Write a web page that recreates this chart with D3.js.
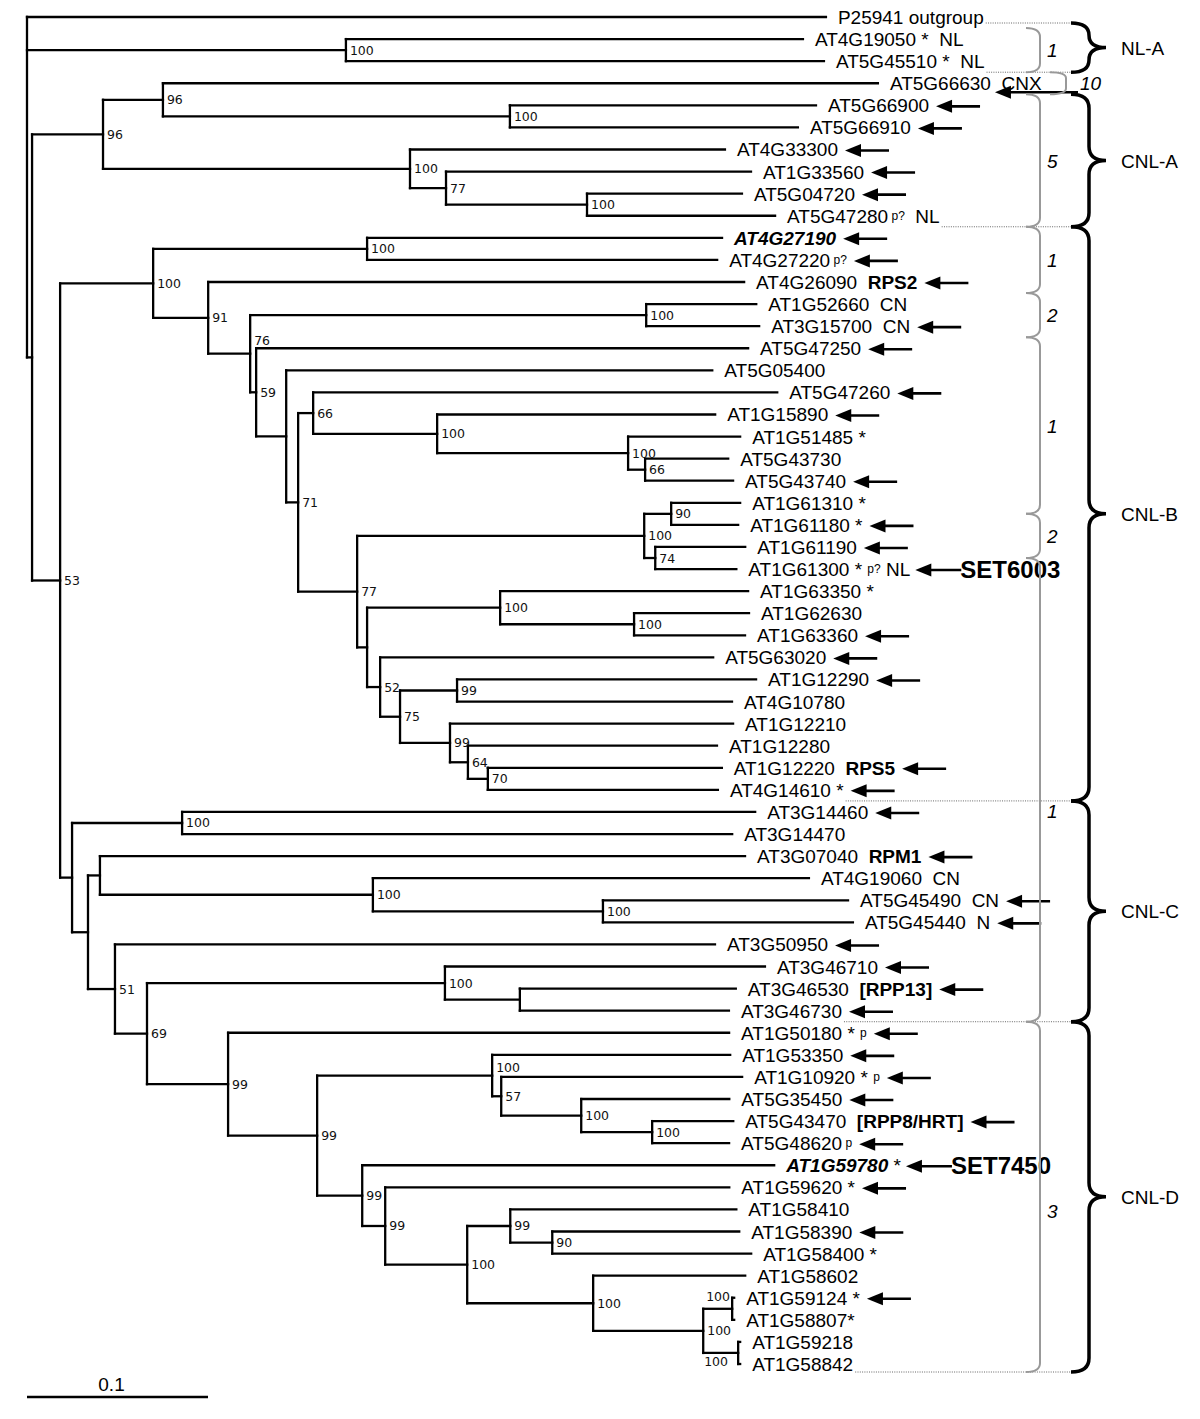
<!DOCTYPE html>
<html><head><meta charset="utf-8">
<script src="https://cdn.jsdelivr.net/npm/d3@7"></script>
<style>body{margin:0;background:#fff} text{white-space:pre}</style>
</head><body>
<svg id="c" width="1200" height="1419"></svg>
<script>
// ---- DATA ----
// tree edges: [id, parent, branch length (subst./site), bootstrap]
const treeEdges = [
 ["root","",0,""],
 ["P25941","root",0.4414,""],
 ["n1","root",0.1762,"100"],
 ["AT4G19050","n1",0.2525,""],
 ["AT5G45510","n1",0.2641,""],
 ["n2","root",0.0028,""],
 ["n3","n2",0.0392,"96"],
 ["n4","n3",0.0331,"96"],
 ["AT5G66630","n4",0.3950,""],
 ["n5","n4",0.1917,"100"],
 ["AT5G66900","n5",0.1691,""],
 ["AT5G66910","n5",0.1591,""],
 ["n6","n3",0.1696,"100"],
 ["AT4G33300","n6",0.1740,""],
 ["n7","n6",0.0199,"77"],
 ["AT1G33560","n7",0.1685,""],
 ["n8","n7",0.0779,"100"],
 ["AT5G04720","n8",0.0856,""],
 ["AT5G47280","n8",0.1039,""],
 ["n9","n2",0.0155,"53"],
 ["n10","n9",0.0514,"100"],
 ["n11","n10",0.1182,"100"],
 ["AT4G27190","n11",0.1961,""],
 ["AT4G27220","n11",0.1934,""],
 ["n12","n10",0.0304,"91"],
 ["AT4G26090","n12",0.2961,""],
 ["n13","n12",0.0232,"76"],
 ["n14","n13",0.2188,"100"],
 ["AT1G52660","n14",0.0608,""],
 ["AT3G15700","n14",0.0624,""],
 ["n15","n13",0.0033,"59"],
 ["AT5G47250","n15",0.2718,""],
 ["n16","n15",0.0166,""],
 ["AT5G05400","n16",0.2354,""],
 ["n17","n16",0.0066,"71"],
 ["n18","n17",0.0083,"66"],
 ["AT5G47260","n18",0.2564,""],
 ["n19","n18",0.0685,"100"],
 ["AT1G15890","n19",0.1536,""],
 ["n20","n19",0.1055,"100"],
 ["AT1G51485","n20",0.0619,""],
 ["n21","n20",0.0094,"66"],
 ["AT5G43730","n21",0.0459,""],
 ["AT5G43740","n21",0.0486,""],
 ["n22","n17",0.0326,"77"],
 ["n23","n22",0.1586,"100"],
 ["n24","n23",0.0149,"90"],
 ["AT1G61310","n24",0.0381,""],
 ["AT1G61180","n24",0.0370,""],
 ["n25","n23",0.0061,"74"],
 ["AT1G61190","n25",0.0497,""],
 ["AT1G61300","n25",0.0448,""],
 ["n26","n22",0.0055,""],
 ["n27","n26",0.0735,"100"],
 ["AT1G63350","n27",0.1370,""],
 ["n28","n27",0.0740,"100"],
 ["AT1G62630","n28",0.0635,""],
 ["AT1G63360","n28",0.0613,""],
 ["n29","n26",0.0072,"52"],
 ["AT5G63020","n29",0.1840,""],
 ["n30","n29",0.0110,"75"],
 ["n31","n30",0.0315,"99"],
 ["AT1G12290","n31",0.1652,""],
 ["AT4G10780","n31",0.1519,""],
 ["n32","n30",0.0276,"99"],
 ["AT1G12210","n32",0.1564,""],
 ["n33","n32",0.0099,"64"],
 ["AT1G12280","n33",0.1376,""],
 ["n34","n33",0.0110,"70"],
 ["AT1G12220","n34",0.1293,""],
 ["AT4G14610","n34",0.1271,""],
 ["n35","n9",0.0066,""],
 ["n36","n35",0.0608,"100"],
 ["AT3G14460","n36",0.3166,""],
 ["AT3G14470","n36",0.3039,""],
 ["n37","n35",0.0088,""],
 ["n38","n37",0.0066,""],
 ["AT3G07040","n38",0.3564,""],
 ["n39","n38",0.1508,"100"],
 ["AT4G19060","n39",0.2409,""],
 ["n40","n39",0.1271,"100"],
 ["AT5G45490","n40",0.1354,""],
 ["AT5G45440","n40",0.1381,""],
 ["n41","n37",0.0149,"51"],
 ["AT3G50950","n41",0.3315,""],
 ["n42","n41",0.0177,"69"],
 ["n43","n42",0.1646,"100"],
 ["AT3G46710","n43",0.1768,""],
 ["n44","n43",0.0414,""],
 ["AT3G46530","n44",0.1193,""],
 ["AT3G46730","n44",0.1155,""],
 ["n45","n42",0.0448,"99"],
 ["AT1G50180","n45",0.2768,""],
 ["n46","n45",0.0492,"99"],
 ["n47","n46",0.0967,"100"],
 ["AT1G53350","n47",0.1315,""],
 ["n48","n47",0.0050,"57"],
 ["AT1G10920","n48",0.1331,""],
 ["n49","n48",0.0442,"100"],
 ["AT5G35450","n49",0.0818,""],
 ["n50","n49",0.0392,"100"],
 ["AT5G43470","n50",0.0448,""],
 ["AT5G48620","n50",0.0425,""],
 ["n51","n46",0.0249,"99"],
 ["AT1G59780","n51",0.2276,""],
 ["n52","n51",0.0127,"99"],
 ["AT1G59620","n52",0.1901,""],
 ["n53","n52",0.0453,"100"],
 ["n54","n53",0.0238,"99"],
 ["AT1G58410","n54",0.1249,""],
 ["n55","n54",0.0232,"90"],
 ["AT1G58390","n55",0.1033,""],
 ["AT1G58400","n55",0.1099,""],
 ["n56","n53",0.0696,"100"],
 ["AT1G58602","n56",0.0840,""],
 ["n57","n56",0.0608,"100"],
 ["n58","n57",0.0160,"100"],
 ["AT1G59124","n58",0.0011,""],
 ["AT1G58807","n58",0.0011,""],
 ["n59","n57",0.0193,"100"],
 ["AT1G59218","n59",0.0011,""],
 ["AT1G58842","n59",0.0011,""]
];

// notes after each leaf name (top to bottom). n: normal, b: bold, s: small raised
const leafNotes = [
 "n: outgroup","n: *  NL","n: *  NL","n:  CNX","","","","","","s: p?|n:  NL",
 "","s: p?","b:  RPS2","n:  CN","n:  CN","","","","","n: *",
 "","","n: *","n: *","","n: * |s:p?|n: NL","n: *","","","",
 "","","","","b:  RPS5","n: *","","","b:  RPM1","n:  CN",
 "n:  CN","n:  N","","","b:  [RPP13]","","n: * |s:p","","n: * |s:p","",
 "b:  [RPP8/HRT]","s: p","n: *","n: *","","","n: *","","n: *","n:*",
 "",""
];
// 0 none, 1 arrow after label, 2 arrow over suffix
const leafArrow = [0,0,0,2,1,1,1,1,1,0, 1,1,1,0,1,1,0,1,1,0, 0,1,0,1,1,1,0,0,1,1,
                   1,0,0,0,1,1,1,0,1,0, 1,1,1,1,1,1,1,1,1,1, 1,1,1,1,0,1,0,0,1,0, 0,0];
const boldItalicLeaves = ["AT4G27190","AT1G59780"];
const setLabels = [["AT1G61300","SET6003"],["AT1G59780","SET7450"]];

// clades: [label, first leaf index, last leaf index]
const clades = [["NL-A",0,2],["CNL-A",4,9],["CNL-B",10,35],["CNL-C",36,45],["CNL-D",46,61]];
// sub-groups: [number, first leaf index, last leaf index]
const subGroups = [["1",1,2],["10",3,3],["5",4,9],["1",10,12],["2",13,14],["1",15,22],["2",23,24],["1",25,45],["3",46,61]];
const scaleBarValue = 0.1;

// ---- DRAW ----
const svg = d3.select("#c");
svg.append("rect").attr("width",1200).attr("height",1419).attr("fill","#fff");

const root = d3.stratify().id(d=>d[0]).parentId(d=>d[1]||null)(treeEdges);
root.eachBefore(d=>{ d.dist = d.parent ? d.parent.dist + d.data[2] : 0; });
const leaves = root.leaves();
const x = d3.scaleLinear().domain([0,0.1]).range([27,208]);
const y = d3.scaleLinear().domain([0,leaves.length-1]).range([17,1364]);
leaves.forEach((d,i)=>{ d.py = y(i); });
root.eachAfter(d=>{ if(d.children) d.py = (d.children[0].py + d.children[d.children.length-1].py)/2; });

const gT = svg.append("g").attr("stroke","#000").attr("stroke-width",2.3).attr("stroke-linecap","square").attr("fill","none");
root.descendants().forEach(d=>{
  if(d.parent) gT.append("line").attr("x1",x(d.parent.dist)).attr("x2",x(d.dist)).attr("y1",d.py).attr("y2",d.py);
  if(d.children) gT.append("line").attr("x1",x(d.dist)).attr("x2",x(d.dist))
      .attr("y1",d.children[0].py).attr("y2",d.children[d.children.length-1].py);
});

// bootstrap labels
const nudge = {n13:{dx:0,dy:-13}, n47:{dx:0,dy:-8}, n58:{dx:-30,dy:-12}, n59:{dx:-38,dy:9}};
root.descendants().filter(d=>d.children && d.data[3]).forEach(d=>{
  const n = nudge[d.id] || {dx:0,dy:0};
  svg.append("text").attr("x",x(d.dist)+4+n.dx).attr("y",d.py+4.5+n.dy)
    .attr("font-family","DejaVu Sans, Verdana, sans-serif").attr("font-size",12.5).attr("fill","#111")
    .text(d.data[3]);
});

const FONT = "Liberation Sans, Arial, sans-serif";
function drawArrow(xt, yc, len){
  svg.append("line").attr("x1",xt+10).attr("x2",xt+len).attr("y1",yc).attr("y2",yc)
    .attr("stroke","#000").attr("stroke-width",2.6);
  svg.append("path").attr("d",`M${xt},${yc}L${xt+16},${yc-6.5}L${xt+16},${yc+6.5}Z`).attr("fill","#000");
}
const labelEnd = [];
leaves.forEach((d,i)=>{
  const x0 = x(d.dist)+12;
  const t = svg.append("text").attr("x",x0).attr("y",d.py+7).attr("font-family",FONT)
    .attr("font-size",19).attr("xml:space","preserve").attr("fill","#000");
  const nm = t.append("tspan").text(d.id);
  if(boldItalicLeaves.includes(d.id)) nm.attr("font-weight","bold").attr("font-style","italic");
  const nameEnd = x0 + t.node().getComputedTextLength();
  let shift = 0;
  if(leafNotes[i]){
    leafNotes[i].split("|").forEach(seg=>{
      const k = seg[0], txt = seg.slice(2);
      const ts = t.append("tspan").text(txt);
      if(k==="b") ts.attr("font-weight","bold");
      if(k==="s"){ ts.attr("font-size",12).attr("dy",-3-shift); shift=-3; }
      else if(shift!==0){ ts.attr("dy",-shift); shift=0; }
    });
  }
  const end = x0 + t.node().getComputedTextLength();
  labelEnd[i] = end;
  if(leafArrow[i]===1){
    const set = setLabels.find(s=>s[0]===d.id);
    if(set){
      drawArrow(end+5, d.py+1, 46);
      svg.append("text").attr("x",end+50).attr("y",d.py+9).attr("font-family",FONT)
        .attr("font-size",24).attr("font-weight","bold").text(set[1]);
    } else drawArrow(end+7, d.py+1, 44);
  } else if(leafArrow[i]===2){
    drawArrow(nameEnd+4, d.py+9, 1078-(nameEnd+4));
  }
});

function bound(first,last){
  const top = first===0 ? y(0)+6 : (y(first-1)+y(first))/2;
  const bot = last===leaves.length-1 ? y(last)+8 : (y(last)+y(last+1))/2;
  return [top,bot];
}
// dotted separators
const dots = [[0, y(0)+6]];
clades.forEach(c=>dots.push([c[2], bound(c[1],c[2])[1]]));
dots.forEach(([li,yy])=>{
  svg.append("line").attr("x1",labelEnd[li]+2).attr("x2",1072).attr("y1",yy).attr("y2",yy)
    .attr("stroke","#666").attr("stroke-width",1).attr("stroke-dasharray","1,1.3");
});

// grey sub-group brackets
const numNudge = {7:21, 8:14};
subGroups.forEach((g,k)=>{
  const [t0,b0] = bound(g[1],g[2]);
  const single = g[1]===g[2];
  const xa = single?1050:1026, xv = single?1066:1040, r = single?6:9;
  svg.append("path").attr("d",`M${xa},${t0}Q${xv},${t0} ${xv},${t0+r}L${xv},${b0-r}Q${xv},${b0} ${xa},${b0}`)
    .attr("fill","none").attr("stroke","#999").attr("stroke-width",2);
  svg.append("text").attr("x",single?1080:1047).attr("y",(t0+b0)/2+7+(numNudge[k]||0))
    .attr("font-family",FONT).attr("font-size",19).attr("font-style","italic").text(g[0]);
});

// black clade braces
clades.forEach(c=>{
  const [t0,b0] = bound(c[1],c[2]);
  const ym = (t0+b0)/2, xa=1071, xv=1089, xt=1106, r=Math.min(14,(b0-t0)/4);
  svg.append("path").attr("d",
    `M${xa},${t0}Q${xv},${t0} ${xv},${t0+r}L${xv},${ym-r}Q${xv},${ym} ${xt},${ym}Q${xv},${ym} ${xv},${ym+r}L${xv},${b0-r}Q${xv},${b0} ${xa},${b0}`)
    .attr("fill","none").attr("stroke","#000").attr("stroke-width",3.5);
  svg.append("text").attr("x",1121).attr("y",ym+7).attr("font-family",FONT).attr("font-size",19).text(c[0]);
});

// scale bar
svg.append("line").attr("x1",x(0)).attr("x2",x(scaleBarValue)).attr("y1",1397).attr("y2",1397)
  .attr("stroke","#000").attr("stroke-width",2.5);
svg.append("text").attr("x",(x(0)+x(scaleBarValue))/2-6).attr("y",1391).attr("text-anchor","middle")
  .attr("font-family",FONT).attr("font-size",19).text(String(scaleBarValue));
</script>
</body></html>
